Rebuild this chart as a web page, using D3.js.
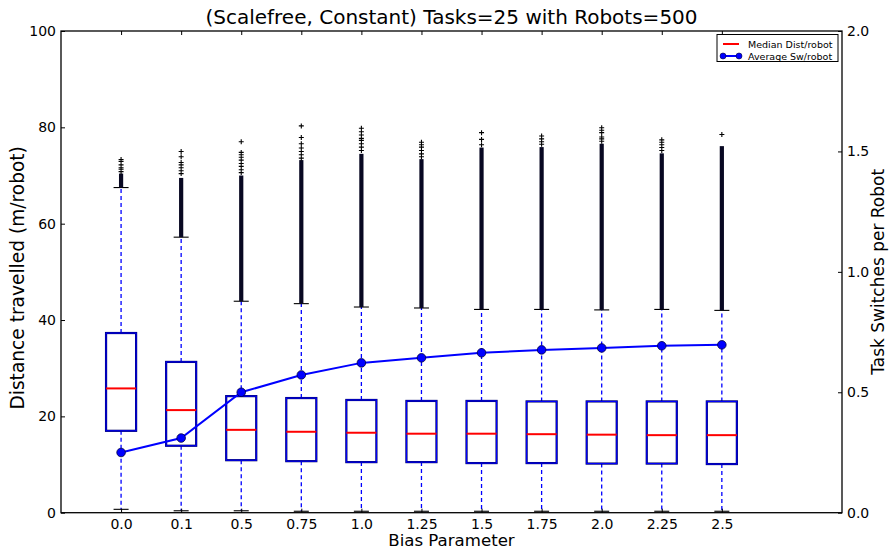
<!DOCTYPE html>
<html><head><meta charset="utf-8">
<script src="https://cdn.jsdelivr.net/npm/d3@7"></script>
<style>
body{margin:0;background:#fff}
svg{display:block}
text{font-family:"DejaVu Sans",sans-serif;fill:#000}
</style>
</head><body>
<svg id="chart" width="891" height="553"></svg>
<script>
// Bias parameter values (one box per value)
const categories = ["0.0","0.1","0.5","0.75","1.0","1.25","1.5","1.75","2.0","2.25","2.5"];

// Box statistics of distance travelled (m/robot)
const whiskerLow  = [0.7, 0.4, 0.4, 0.3, 0.3, 0.3, 0.3, 0.3, 0.3, 0.3, 0.3];
const q1          = [17.0, 13.9, 10.9, 10.7, 10.5, 10.5, 10.3, 10.3, 10.2, 10.2, 10.1];
const median      = [25.8, 21.3, 17.2, 16.8, 16.6, 16.4, 16.4, 16.3, 16.2, 16.1, 16.1];
const q3          = [37.3, 31.3, 24.2, 23.8, 23.4, 23.2, 23.2, 23.1, 23.1, 23.1, 23.1];
const whiskerHigh = [67.5, 57.2, 43.9, 43.4, 42.7, 42.5, 42.2, 42.2, 42.1, 42.2, 42.0];

// Outliers: a continuous run from the upper whisker up to denseFliersTop,
// then the isolated points above it
const denseFliersTop = [70.4, 69.5, 70.0, 73.2, 74.5, 73.4, 75.8, 75.9, 76.6, 74.6, 76.1];
const sparseFliers = [
  [73.3, 72.9, 72.2, 71.6, 71.3, 70.8],
  [75.0, 73.9, 72.7, 72.2, 71.6, 71.0, 70.4],
  [77.0, 74.8, 74.3, 73.8, 73.2, 72.5, 71.9, 71.2, 70.6],
  [80.3, 77.9, 76.6, 75.7, 75.0, 74.3, 73.6],
  [79.8, 79.1, 78.4, 77.7, 77.3, 76.6, 75.9, 75.2],
  [76.9, 76.4, 75.9, 75.2, 74.5, 73.9],
  [78.9, 77.5, 76.4],
  [78.2, 77.6, 77.0, 76.5],
  [79.9, 79.4, 78.9, 78.0, 77.6, 77.1],
  [77.4, 76.9, 76.4, 75.8, 75.2],
  [78.5]
];

// Average task switches per robot (right axis)
const avgSwitches = [0.25, 0.31, 0.50, 0.572, 0.622, 0.643, 0.664, 0.676, 0.684, 0.693, 0.697];

const leftTicks = [0, 20, 40, 60, 80, 100];
const rightTicks = [0, 0.5, 1.0, 1.5, 2.0];
const rightTickLabels = ["0.0", "0.5", "1.0", "1.5", "2.0"];

const titleText = "(Scalefree, Constant) Tasks=25 with Robots=500";
const xLabel = "Bias Parameter";
const yLabelLeft = "Distance travelled (m/robot)";
const yLabelRight = "Task Switches per Robot";
const legendLabels = ["Median Dist/robot", "Average Sw/robot"];

const svg = d3.select("#chart");
const L = 61, R = 842, T = 31, B = 512.7;

const x = d3.scaleLinear().domain([0, categories.length + 2]).range([L, R]);
const y = d3.scaleLinear().domain([0, 100]).range([B, T]);
const y2 = d3.scaleLinear().domain([0, 2]).range([B, T]);
const pos = i => x(i + 1);
const boxHalf = x(0.25) - x(0);
const capHalf = x(0.125) - x(0);

const plot = svg.append("g");

// whiskers (dashed) and caps
categories.forEach((c, i) => {
  const cx = pos(i);
  plot.append("line").attr("x1", cx).attr("x2", cx)
    .attr("y1", y(q3[i])).attr("y2", y(whiskerHigh[i]))
    .attr("stroke", "#0000ff").attr("stroke-width", 1.3).attr("stroke-dasharray", "4,3");
  plot.append("line").attr("x1", cx).attr("x2", cx)
    .attr("y1", y(q1[i])).attr("y2", y(whiskerLow[i]))
    .attr("stroke", "#0000ff").attr("stroke-width", 1.3).attr("stroke-dasharray", "4,3");
  [whiskerHigh[i], whiskerLow[i]].forEach(v => {
    plot.append("line").attr("x1", cx - capHalf).attr("x2", cx + capHalf)
      .attr("y1", y(v)).attr("y2", y(v))
      .attr("stroke", "#000").attr("stroke-width", 1.1);
  });
});

// boxes
categories.forEach((c, i) => {
  const cx = pos(i);
  const r = { x: cx - boxHalf, y: y(q3[i]), w: 2 * boxHalf, h: y(q1[i]) - y(q3[i]) };
  plot.append("rect").attr("x", r.x).attr("y", r.y).attr("width", r.w).attr("height", r.h)
    .attr("fill", "none").attr("stroke", "#000060").attr("stroke-width", 2.2);
  plot.append("rect").attr("x", r.x).attr("y", r.y).attr("width", r.w).attr("height", r.h)
    .attr("fill", "none").attr("stroke", "#0000ff").attr("stroke-width", 1.1);
  plot.append("line").attr("x1", cx - boxHalf).attr("x2", cx + boxHalf)
    .attr("y1", y(median[i])).attr("y2", y(median[i]))
    .attr("stroke", "#ff0000").attr("stroke-width", 2);
});

// outliers
const plus = (px, py, a) => `M${px - a},${py}H${px + a}M${px},${py - a}V${py + a}`;
categories.forEach((c, i) => {
  const cx = pos(i);
  plot.append("rect").attr("x", cx - 2.1).attr("width", 4.2)
    .attr("y", y(denseFliersTop[i])).attr("height", y(whiskerHigh[i]) - y(denseFliersTop[i]))
    .attr("fill", "#080822");
  plot.append("path")
    .attr("d", sparseFliers[i].map(v => plus(cx, y(v), 2.5)).join(""))
    .attr("stroke", "#000").attr("stroke-width", 1.1).attr("fill", "none");
});

// frame
svg.append("rect").attr("x", L).attr("y", T).attr("width", R - L).attr("height", B - T)
  .attr("fill", "none").attr("stroke", "#000").attr("stroke-width", 1.3);

// left axis (ticks pointing inward)
const axisL = svg.append("g").attr("transform", `translate(${L},0)`)
  .call(d3.axisLeft(y).tickValues(leftTicks).tickFormat(d3.format("d")).tickSizeInner(-4).tickSizeOuter(0).tickPadding(5));
axisL.select(".domain").remove();
axisL.selectAll("text").style("font-size", "14px").attr("font-family", "DejaVu Sans");

// right axis
const axisR = svg.append("g").attr("transform", `translate(${R},0)`)
  .call(d3.axisRight(y2).tickValues(rightTicks).tickFormat((d, i) => rightTickLabels[i]).tickSizeInner(-4).tickSizeOuter(0).tickPadding(5));
axisR.select(".domain").remove();
axisR.selectAll("text").style("font-size", "14px").attr("font-family", "DejaVu Sans");

// bottom axis with category labels, ticks also mirrored on top
const axisB = svg.append("g").attr("transform", `translate(0,${B})`)
  .call(d3.axisBottom(x).tickValues(categories.map((c, i) => i + 1))
    .tickFormat((d) => categories[d - 1]).tickSizeInner(-4).tickSizeOuter(0).tickPadding(6));
axisB.select(".domain").remove();
axisB.selectAll("text").style("font-size", "14px").attr("font-family", "DejaVu Sans");
const axisT = svg.append("g").attr("transform", `translate(0,${T})`)
  .call(d3.axisTop(x).tickValues(categories.map((c, i) => i + 1)).tickFormat("").tickSizeInner(-4).tickSizeOuter(0));
axisT.select(".domain").remove();
svg.selectAll(".tick line").attr("stroke", "#000").attr("stroke-width", 1);

// average switches line
const line = d3.line().x((d, i) => pos(i)).y(d => y2(d));
svg.append("path").datum(avgSwitches).attr("d", line)
  .attr("fill", "none").attr("stroke", "#0000ff").attr("stroke-width", 2);
svg.selectAll("circle.sw").data(avgSwitches).join("circle").attr("class", "sw")
  .attr("cx", (d, i) => pos(i)).attr("cy", d => y2(d)).attr("r", 4.3)
  .attr("fill", "#0000ff").attr("stroke", "#000040").attr("stroke-width", 0.8);

// labels
svg.append("text").attr("x", (L + R) / 2).attr("y", 24).attr("text-anchor", "middle")
  .style("font-size", "20px").text(titleText);
svg.append("text").attr("x", (L + R) / 2).attr("y", 546).attr("text-anchor", "middle")
  .style("font-size", "16.6px").text(xLabel);
svg.append("text").attr("transform", `translate(24,${(T + B) / 2 + 6}) rotate(-90)`).attr("text-anchor", "middle")
  .style("font-size", "18.6px").text(yLabelLeft);
svg.append("text").attr("transform", `translate(884,${(T + B) / 2}) rotate(-90)`).attr("text-anchor", "middle")
  .style("font-size", "17px").text(yLabelRight);

// legend
const lg = svg.append("g").attr("transform", "translate(717,34.5)");
lg.append("rect").attr("width", 121).attr("height", 27).attr("fill", "#fff")
  .attr("stroke", "#000").attr("stroke-width", 1);
lg.append("line").attr("x1", 6).attr("x2", 22).attr("y1", 9.5).attr("y2", 9.5)
  .attr("stroke", "#ff0000").attr("stroke-width", 2);
lg.append("line").attr("x1", 6).attr("x2", 22).attr("y1", 21.5).attr("y2", 21.5)
  .attr("stroke", "#0000ff").attr("stroke-width", 2);
[6, 22].forEach(cx => lg.append("circle").attr("cx", cx).attr("cy", 21.5).attr("r", 3)
  .attr("fill", "#0000ff").attr("stroke", "#000040").attr("stroke-width", 0.6));
lg.selectAll("text.lt").data(legendLabels).join("text").attr("class", "lt")
  .attr("x", 31).attr("y", (d, i) => 13 + i * 12).style("font-size", "9.5px").text(d => d);
</script>
</body></html>
